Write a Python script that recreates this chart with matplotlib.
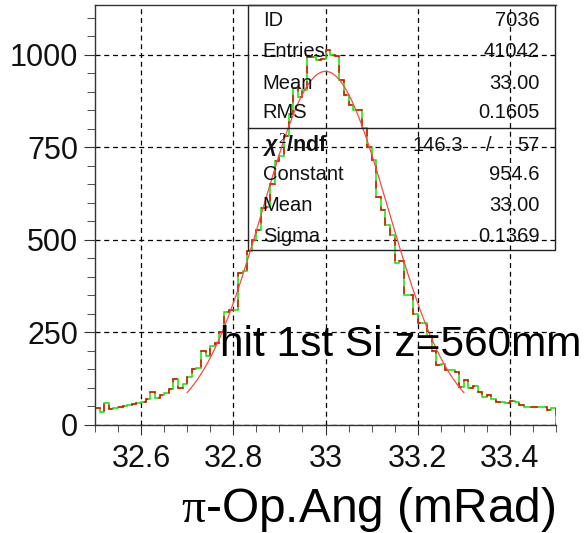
import matplotlib
matplotlib.use('Agg')
import matplotlib.pyplot as plt
import numpy as np
from matplotlib.ticker import FixedLocator, MultipleLocator, FormatStrFormatter
from matplotlib.patches import Rectangle

plt.rcParams['font.family'] = ['Liberation Sans', 'DejaVu Sans']
plt.rcParams['mathtext.fontset'] = 'custom'
plt.rcParams['mathtext.rm'] = 'Liberation Serif'
plt.rcParams['mathtext.it'] = 'Liberation Sans:italic:bold'

# Гістограма: 100 бінів від 32.5 до 33.5 мРад
x_lo, x_hi, n_bins = 32.5, 33.5, 100
counts = [
    45, 33, 57, 41, 45, 48, 50, 54, 55, 58,
    62, 68, 89, 71, 80, 84, 95, 123, 98, 109,
    129, 150, 152, 199, 184, 213, 220, 251, 304, 310,
    310, 409, 414, 470, 499, 527, 585, 589, 650, 711,
    725, 780, 840, 910, 885, 905, 994, 994, 985, 988,
    1013, 1000, 995, 932, 892, 865, 851, 851, 802, 751,
    716, 616, 580, 540, 513, 436, 441, 350, 350, 300,
    275, 275, 238, 200, 160, 164, 146, 146, 143, 102,
    120, 100, 104, 89, 75, 80, 70, 62, 60, 57,
    64, 60, 52, 48, 47, 47, 46, 46, 40, 44,
]

# Статистика та параметри гаусового фіту
hist_id = 7036
entries = 41042
h_mean = 33.00
h_rms = 0.1605
chi2, ndf = 146.3, 57
fit_const = 954.6
fit_mean = 33.00
fit_sigma = 0.1369
fit_range = (32.7, 33.3)

edges = np.linspace(x_lo, x_hi, n_bins + 1)

fig = plt.figure(figsize=(5.87, 5.33), dpi=100)
ax = fig.add_axes([95 / 587, 1 - 424.5 / 533, 461 / 587, 419.5 / 533])

# Сітка
ax.set_axisbelow(True)
ax.grid(True, which='major', color='black', linestyle=(0, (4, 3)), linewidth=0.9)

# Гістограма (зелена + червона штрихова поверх)
ax.stairs(counts, edges, baseline=0, color='#00ee00', linewidth=1.1)
ax.stairs(counts, edges, baseline=0, color='#ff0000', linewidth=1.1,
          linestyle=(0, (5, 5)))

# Фіт
xf = np.linspace(fit_range[0], fit_range[1], 300)
yf = fit_const * np.exp(-0.5 * ((xf - fit_mean) / fit_sigma) ** 2)
ax.plot(xf, yf, color='#ff4545', linewidth=0.9)

ax.set_xlim(x_lo, x_hi)
ax.set_ylim(0, 1134)
ax.xaxis.set_major_locator(FixedLocator([32.6, 32.8, 33.0, 33.2, 33.4]))
ax.xaxis.set_major_formatter(FormatStrFormatter('%g'))
ax.xaxis.set_minor_locator(FixedLocator(np.arange(32.5, 33.51, 0.05)))
ax.yaxis.set_major_locator(FixedLocator([0, 250, 500, 750, 1000]))
ax.yaxis.set_minor_locator(MultipleLocator(50))

for s in ['left', 'bottom', 'top']:
    ax.spines[s].set_color('#333333')
    ax.spines[s].set_linewidth(1.0)
ax.spines['right'].set_visible(False)

ax.tick_params(axis='both', which='both', direction='out', colors='#333333',
               labelcolor='#111111', labelsize=22)
ax.tick_params(axis='y', which='major', length=8, pad=4)
ax.tick_params(axis='y', which='minor', length=5.5)
ax.tick_params(axis='x', which='major', length=7, pad=7)
ax.tick_params(axis='x', which='minor', length=5)
ax.tick_params(right=False, top=False, which='both')

# Панель статистики
box_l, box_r, box_b, box_t, box_mid = 0.332, 0.998, 0.416, 1.0, 0.707
ax.add_patch(Rectangle((box_l, box_b), box_r - box_l, box_t - box_b,
                       transform=ax.transAxes, fill=False, ec='#222222',
                       lw=1.0, clip_on=False))
ax.plot([box_l, box_r], [box_mid, box_mid], transform=ax.transAxes,
        color='#222222', lw=1.0, clip_on=False)

lab_x, val_x = 0.364, 0.965
fs = 14.5
rows = [
    (0.964, 'ID', f'{hist_id}'),
    (0.888, 'Entries', f'{entries}'),
    (0.814, 'Mean', f'{h_mean:.2f}'),
    (0.743, 'RMS', f'{h_rms:.4f}'),
    (0.595, 'Constant', f'{fit_const:.1f}'),
    (0.521, 'Mean', f'{fit_mean:.2f}'),
    (0.447, 'Sigma', f'{fit_sigma:.4f}'),
]
for y, lab, val in rows:
    ax.text(lab_x, y, lab, transform=ax.transAxes, fontsize=fs,
            ha='left', va='center', color='#111111')
    ax.text(val_x, y, val, transform=ax.transAxes, fontsize=fs,
            ha='right', va='center', color='#111111')

y_chi = 0.666
ax.text(lab_x, y_chi, r'$\chi^{2}$/ndf', transform=ax.transAxes,
        fontsize=fs + 1, fontweight='bold', ha='left', va='center',
        color='#111111')
ax.text(0.798, y_chi, f'{chi2:.1f}', transform=ax.transAxes, fontsize=fs,
        ha='right', va='center', color='#111111')
ax.text(0.855, y_chi, '/', transform=ax.transAxes, fontsize=fs,
        ha='center', va='center', color='#111111')
ax.text(val_x, y_chi, f'{ndf}', transform=ax.transAxes, fontsize=fs,
        ha='right', va='center', color='#111111')

# Підпис
fig.text(220 / 587, 1 - 356 / 533, 'hit 1st Si z=560mm', fontsize=30.5,
         ha='left', va='baseline', color='black')

# Назва осі X
fig.text(555 / 587, 1 - 522 / 533, r'$\mathrm{\pi}$-Op.Ang (mRad)',
         fontsize=34.5, ha='right', va='baseline', color='black')

fig.savefig('out.png', dpi=100)
